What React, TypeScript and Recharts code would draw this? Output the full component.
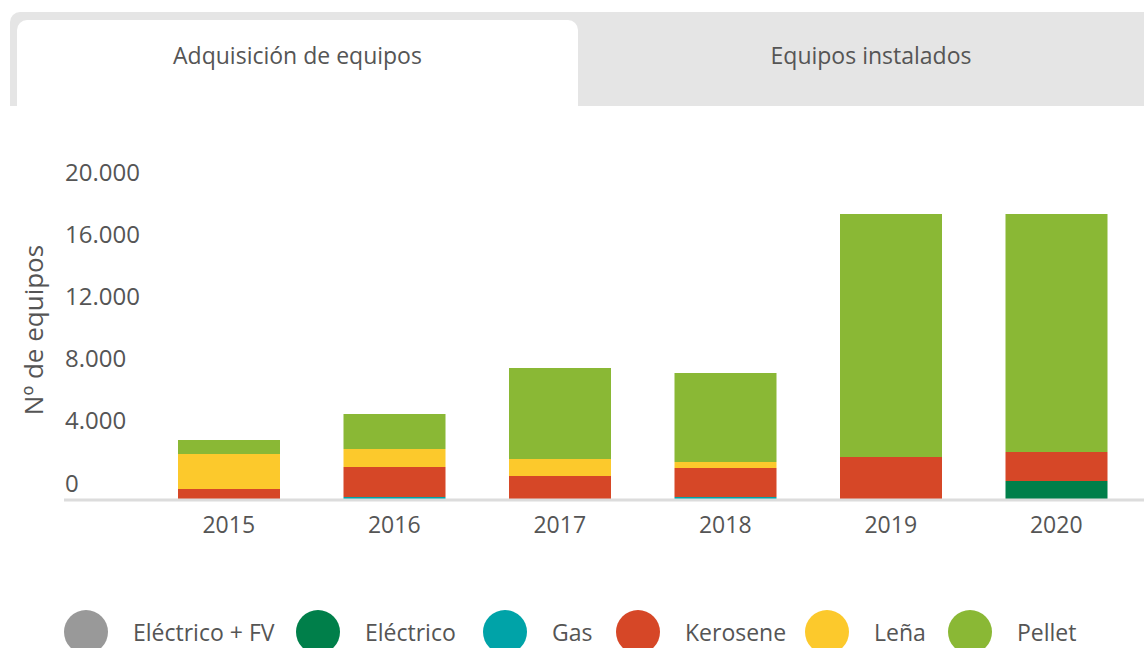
import { BarChart, Bar, XAxis, YAxis, Label } from "recharts";

const years = ["2015", "2016", "2017", "2018", "2019", "2020"];

const electricoFV = [0, 0, 0, 0, 0, 0];
const electrico = [0, 0, 0, 0, 0, 1220];
const gas = [60, 190, 0, 190, 0, 0];
const kerosene = [650, 1930, 1550, 1865, 2765, 1865];
const lena = [2250, 1160, 1090, 390, 0, 0];
const pellet = [900, 2250, 5850, 5720, 15625, 15300];

const yTicks = [0, 4000, 8000, 12000, 16000, 20000];

const series = [
  { key: "electricoFV", name: "Eléctrico + FV", color: "#999999", values: electricoFV },
  { key: "electrico", name: "Eléctrico", color: "#007f4a", values: electrico },
  { key: "gas", name: "Gas", color: "#00a3a8", values: gas },
  { key: "kerosene", name: "Kerosene", color: "#d64727", values: kerosene },
  { key: "lena", name: "Leña", color: "#fcc92c", values: lena },
  { key: "pellet", name: "Pellet", color: "#8ab835", values: pellet },
];

// legend item left edges (layout only)
const legendLeft = [64, 296, 483, 616, 805, 948];

const data = years.map((year, i) => {
  const row: Record<string, number | string> = { year };
  series.forEach((s) => {
    row[s.key] = s.values[i];
  });
  return row;
});

const FONT = "'Open Sans', sans-serif";
const TEXT = "#555555";

const formatThousands = (v: number) => String(v).replace(/\B(?=(\d{3})+(?!\d))/g, ".");

function YTick({ y, payload }: any) {
  return (
    <text x={65} y={y - 18} textAnchor="start" dominantBaseline="central" fontFamily={FONT} fontSize={24} fill={TEXT}>
      {formatThousands(payload.value)}
    </text>
  );
}

function XTick({ x, y, payload }: any) {
  return (
    <text x={x} y={y + 16} textAnchor="middle" dominantBaseline="central" fontFamily={FONT} fontSize={23} fill={TEXT}>
      {payload.value}
    </text>
  );
}

function Tabs() {
  return (
    <div
      style={{
        position: "absolute",
        left: 10,
        top: 12,
        width: 1134,
        height: 94,
        background: "#e5e5e5",
        borderTopLeftRadius: 10,
        fontFamily: FONT,
        fontSize: 23,
        color: TEXT,
      }}
    >
      <div
        style={{
          position: "absolute",
          left: 7,
          top: 8,
          width: 561,
          height: 86,
          background: "#fff",
          borderTopLeftRadius: 10,
          borderTopRightRadius: 10,
          display: "flex",
          justifyContent: "center",
          paddingTop: 19,
          boxSizing: "border-box",
        }}
      >
        Adquisición de equipos
      </div>
      <div
        style={{
          position: "absolute",
          left: 568,
          top: 27,
          width: 586,
          textAlign: "center",
        }}
      >
        Equipos instalados
      </div>
    </div>
  );
}

function LegendRow() {
  return (
    <div style={{ position: "absolute", left: 0, top: 610, width: 1144, height: 44, fontFamily: FONT, fontSize: 23, color: TEXT }}>
      {series.map((s, i) => (
        <div
          key={s.key}
          style={{ position: "absolute", left: legendLeft[i], top: 0, height: 44, display: "flex", alignItems: "center", whiteSpace: "nowrap" }}
        >
          <span style={{ width: 44, height: 44, borderRadius: "50%", background: s.color, marginRight: 25, flex: "none" }} />
          <span>{s.name}</span>
        </div>
      ))}
    </div>
  );
}

export default function App() {
  return (
    <div style={{ position: "absolute", left: 0, top: 0, width: 1144, height: 648, overflow: "hidden", background: "#fff" }}>
      <Tabs />
      <BarChart
        width={1144}
        height={648}
        data={data}
        margin={{ top: 189, right: 0, left: 0, bottom: 118 }}
        barSize={102}
      >
        <XAxis
          dataKey="year"
          height={30}
          padding={{ left: 82, right: 5 }}
          axisLine={{ stroke: "#dcdcdc", strokeWidth: 3 }}
          tickLine={false}
          tick={<XTick />}
          interval={0}
        />
        <YAxis
          width={64}
          domain={[0, 20000]}
          ticks={yTicks}
          axisLine={false}
          tickLine={false}
          tick={<YTick />}
          interval={0}
        >
          <Label
            content={() => (
              <text
                x={33}
                y={330}
                transform="rotate(-90, 33, 330)"
                textAnchor="middle"
                dominantBaseline="central"
                fontFamily={FONT}
                fontSize={26}
                fill={TEXT}
              >
                Nº de equipos
              </text>
            )}
          />
        </YAxis>
        {series.map((s) => (
          <Bar key={s.key} dataKey={s.key} name={s.name} stackId="a" fill={s.color} isAnimationActive={false} />
        ))}
      </BarChart>
      <LegendRow />
    </div>
  );
}
